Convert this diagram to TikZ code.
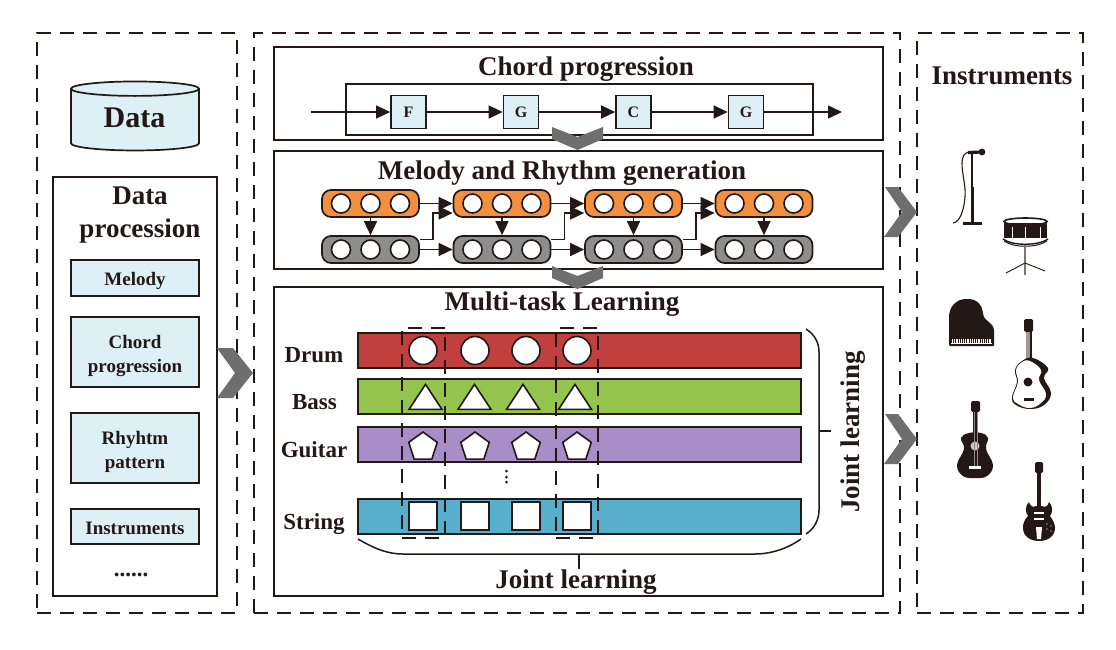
\documentclass[tikz,border=0pt]{standalone}
\usepackage{fontspec}
\setmainfont{Liberation Serif}
\usepackage{xcolor}
\usetikzlibrary{positioning,arrows.meta,shapes.geometric}
\definecolor{inkdark}{HTML}{231815}
\definecolor{paleblue}{HTML}{DDF0F5}
\definecolor{chevgray}{HTML}{6F6E6E}
\definecolor{pillorange}{HTML}{F3903F}
\definecolor{pillgray}{HTML}{8E8D8D}
\definecolor{bardrum}{HTML}{C03F3F}
\definecolor{barbass}{HTML}{94C34E}
\definecolor{barguitar}{HTML}{A88EC6}
\definecolor{barstring}{HTML}{58AFCB}
\tikzset{
  frame/.style={draw=inkdark, line width=1.6pt, dash pattern=on 14pt off 9pt},
  panel/.style={draw=inkdark, line width=1.7pt, minimum width=609pt, inner sep=0pt},
  title/.style={font=\fontsize{27}{29}\selectfont\bfseries, text=inkdark, inner sep=0pt},
  smallbox/.style={draw=inkdark, fill=paleblue, line width=1.7pt, minimum width=128pt, inner sep=0pt, align=center,
    text=inkdark, font=\fontsize{19}{24}\selectfont\bfseries},
  chordbox/.style={draw=inkdark, fill=paleblue, line width=1.7pt, minimum width=35pt, minimum height=33pt, inner sep=0pt,
    text=inkdark, font=\fontsize{16}{18}\selectfont\bfseries},
  flow/.style={draw=inkdark, line width=1.5pt, -{Triangle[length=14pt,width=13pt]}},
  pill/.style={draw=inkdark, line width=1.7pt, rounded corners=9pt, minimum width=97pt, minimum height=27pt},
  note/.style={draw=inkdark, fill=white, line width=1.6pt, circle, minimum size=19pt, inner sep=0pt},
  bar/.style={draw=inkdark, line width=1.7pt, minimum width=443pt, minimum height=35pt, inner sep=0pt},
  track/.style={text=inkdark, font=\fontsize{23}{25}\selectfont\bfseries, inner sep=0pt},
  rnd/.style={draw=inkdark, fill=white, line width=1.6pt, circle, minimum size=28pt, inner sep=0pt},
  tri/.style={draw=inkdark, fill=white, line width=1.6pt, isosceles triangle, isosceles triangle stretches,
    shape border rotate=90, minimum width=33pt, minimum height=25pt, inner sep=0pt},
  penta/.style={draw=inkdark, fill=white, line width=1.6pt, regular polygon, regular polygon sides=5, minimum size=30pt, inner sep=0pt},
  sqr/.style={draw=inkdark, fill=white, line width=1.6pt, minimum size=28pt, inner sep=0pt},
  chev/.style={fill=chevgray},
  bracket/.style={draw=inkdark, line width=1.5pt},
  icon/.style={fill=inkdark}
}
\newcommand{\pillnotes}[1]{
  \node[note] (#1b) at (#1.center) {};
  \node[note, left of=#1b] (#1a) {};
  \node[note, right of=#1b] (#1c) {};
}
\begin{document}
\begin{tikzpicture}[x=1pt, y=-1pt, node distance=29.5pt]
    \fill[white] (0,0) rectangle (1116,649);
    \useasboundingbox (0,0) rectangle (1116,649);

    % outer frames
    \node[frame, minimum width=200pt, minimum height=580pt] (dataframe) at (137,323) {};
    \node[frame, minimum width=646pt, minimum height=580pt] (modelframe) at (577,323) {};
    \node[frame, minimum width=166pt, minimum height=580pt] (instrframe) at (1000,323) {};

    % data column
    \node[cylinder, shape border rotate=90, aspect=.234, draw=inkdark, fill=paleblue, line width=1.7pt,
      minimum width=128pt, minimum height=69pt, inner sep=0pt,
      font=\fontsize{30}{32}\selectfont\bfseries] (data) at (135,120) {\phantom{Data}};
    \node[title, font=\fontsize{30}{32}\selectfont\bfseries] (datalabel) at (134.5,117.5) {Data};
    \node[draw=inkdark, line width=1.7pt, minimum width=164pt, minimum height=419pt] (procbox) at (135,386.5) {};
    \node[title, align=center, font=\fontsize{27}{33}\selectfont\bfseries] (proctitle) at (140,215) {Data\\procession};
    \node[smallbox, minimum height=36pt] (melody) at (135,278) {\rule{0pt}{19pt}Melody};
    \node[smallbox, minimum height=70pt] (chord) at (135,352) {\rule{0pt}{22pt}Chord\\progression};
    \node[smallbox, minimum height=70pt] (rhythm) at (135,448) {\rule{0pt}{22pt}Rhyhtm\\pattern};
    \node[smallbox, minimum height=35pt] (instruments) at (135,526.5) {\rule{0pt}{17pt}Instruments};
    \node[track] (more) at (131,575) {......};

    % chord progression
    \node[panel, minimum height=93pt] (chordpanel) at (578.5,93.5) {};
    \node[title] (chordtitle) at (586,69) {Chord progression};
    \node[draw=inkdark, line width=1.5pt, minimum width=467pt, minimum height=51pt] (chordinner) at (579.5,109.5) {};
    \coordinate (chordin) at (311,112);
    \coordinate (chordout) at (842,112);
    \node[chordbox] (chordF) at (408.5,112) {F};
    \node[chordbox, right of=chordF, node distance=112.5pt] (chordG) {G};
    \node[chordbox, right of=chordG, node distance=112.5pt] (chordC) {C};
    \node[chordbox, right of=chordC, node distance=112.5pt] (chordGG) {G};
    \draw[flow] (chordin) -- (chordF);
    \draw[flow] (chordF) -- (chordG);
    \draw[flow] (chordG) -- (chordC);
    \draw[flow] (chordC) -- (chordGG);
    \draw[flow] (chordGG) -- (chordout);

    % melody and rhythm
    \node[panel, minimum height=118pt] (melodypanel) at (578.5,210) {};
    \node[title] (melodytitle) at (562,173) {Melody and Rhythm generation};
    \node[pill, fill=pillorange] (ma) at (370.5,203.5) {};
    \node[pill, fill=pillorange] (mb) at (502,203.5) {};
    \node[pill, fill=pillorange] (mc) at (633.5,203.5) {};
    \node[pill, fill=pillorange] (md) at (764,203.5) {};
    \node[pill, fill=pillgray] (ra) at (370.5,249.5) {};
    \node[pill, fill=pillgray] (rb) at (502,249.5) {};
    \node[pill, fill=pillgray] (rc) at (633.5,249.5) {};
    \node[pill, fill=pillgray] (rd) at (764,249.5) {};
    \pillnotes{ma}\pillnotes{mb}\pillnotes{mc}\pillnotes{md}
    \pillnotes{ra}\pillnotes{rb}\pillnotes{rc}\pillnotes{rd}
    \draw[flow] (ma) -- (mb);
    \draw[flow] (mb) -- (mc);
    \draw[flow] (mc) -- (md);
    \draw[flow] (ra) -- (rb);
    \draw[flow] (rb) -- (rc);
    \draw[flow] (rc) -- (rd);
    \draw[flow] (ma.south) -- (ra.north);
    \draw[flow] (mb.south) -- (rb.north);
    \draw[flow] (mc.south) -- (rc.north);
    \draw[flow] (md.south) -- (rd.north);
    \draw[flow] ([yshift=10pt]ra.east) -- ++(13,0) |- ([yshift=-9.5pt]mb.west);
    \draw[flow] ([yshift=10pt]rb.east) -- ++(13,0) |- ([yshift=-9.5pt]mc.west);
    \draw[flow] ([yshift=10pt]rc.east) -- ++(13,0) |- ([yshift=-9.5pt]md.west);

    % multi-task learning
    \node[panel, minimum height=309pt] (taskpanel) at (578.5,441.5) {};
    \node[title] (tasktitle) at (562,304) {Multi-task Learning};
    \node[bar, fill=bardrum] (drumbar) at (579.5,350.5) {};
    \node[bar, fill=barbass] (bassbar) at (579.5,396.5) {};
    \node[bar, fill=barguitar] (guitarbar) at (579.5,444.5) {};
    \node[bar, fill=barstring] (stringbar) at (579.5,516.5) {};
    \node[track] (drum) at (314,355) {Drum};
    \node[track] (bass) at (314.5,402) {Bass};
    \node[track] (guitar) at (314,449.5) {Guitar};
    \node[track] (string) at (314,524) {String};
    \node[frame, minimum width=43pt, minimum height=210pt] (groupa) at (423.5,433) {};
    \node[frame, minimum width=42pt, minimum height=210pt] (groupb) at (577,433) {};

    \node[rnd] (drumA) at (423,350.5) {};
    \node[rnd] (drumB) at (475,350.5) {};
    \node[rnd] (drumC) at (526,350.5) {};
    \node[rnd] (drumD) at (577,350.5) {};
    \node[tri] (bassA) at (425.5,400.5) {};
    \node[tri] (bassB) at (474.5,400.5) {};
    \node[tri] (bassC) at (523,400.5) {};
    \node[tri] (bassD) at (575,400.5) {};
    \node[penta] (guitarA) at (423,447) {};
    \node[penta] (guitarB) at (475,447) {};
    \node[penta] (guitarC) at (526,447) {};
    \node[penta] (guitarD) at (577,447) {};
    \node[sqr] (stringA) at (423,516) {};
    \node[sqr] (stringB) at (475,516) {};
    \node[sqr] (stringC) at (526,516) {};
    \node[sqr] (stringD) at (577,516) {};
    \fill[inkdark] (506.5,471) circle (1.5) (506.5,477) circle (1.5) (506.5,482) circle (1.5);

    \coordinate (bottommid) at (579,554);
    \coordinate (rightmid) at (819,431);
    \node[title] (jointbottom) at (576,582) {Joint learning};
    \node[title, rotate=90] (jointright) at (853,432) {Joint learning};
    \draw[bracket] (358,539) .. controls (375,549) and (388,554) .. (403,554) -- (755,554)
      .. controls (770,554) and (787,549) .. (801,539);
    \draw[bracket] (806,329) .. controls (814,334) and (819,342) .. (819,352) -- (819,510)
      .. controls (819,520) and (814,529) .. (806,534);
    \draw[bracket] (bottommid) -- (jointbottom.north -| bottommid);
    \draw[bracket] (rightmid) -- ++(12,0);

    % chevrons
    \fill[chev] (552,127) -- (577.5,137) -- (603,127) -- (603,139) -- (577.5,150) -- (552,139) -- cycle;
    \fill[chev] (552,266) -- (577.5,276) -- (603,266) -- (603,278) -- (577.5,289) -- (552,278) -- cycle;
    \fill[chev] (217,348) -- (233,348) -- (253,373) -- (233,398) -- (217,398) -- (235,373) -- cycle;
    \fill[chev] (885,187) -- (898,187) -- (917,212) -- (898,237) -- (884,237) -- (902,212) -- cycle;
    \fill[chev] (885,414) -- (898,414) -- (917,439) -- (898,464) -- (884,464) -- (902,439) -- cycle;

    % instruments
    \node[title] (instrtitle) at (1002,76) {Instruments};

    % microphone
    \draw[inkdark, line width=1.2pt] (972,152) -- (972,187);
    \draw[inkdark, line width=3pt] (972,187) -- (972,223);
    \draw[inkdark, line width=2.6pt] (963,223.5) -- (982,223.5);
    \draw[inkdark, line width=1.1pt] (969,152) .. controls (964,153) and (962,157) .. (962,163)
      .. controls (962,175) and (966,185) .. (965,197) .. controls (964,210) and (960,222) .. (953,223);
    \draw[inkdark, line width=3.2pt] (968,152.5) -- (982,152);
    \fill[inkdark] (982,152) circle (3.4);

    % snare drum
    \draw[inkdark, line width=1.6pt, fill=white] (1025.5,221.5) ellipse (21.5 and 3.5);
    \fill[icon] (1004,223) -- (1047,223) -- (1047,238) -- (1004,238) -- cycle;
    \draw[white, line width=.8pt] (1012,227) -- (1012,238) (1025,227) -- (1025,239) (1040,227) -- (1040,238);
    \draw[inkdark, line width=1.4pt] (1003,239) .. controls (1012,246) and (1038,246) .. (1048,239);
    \draw[inkdark, line width=1pt] (1004,241) .. controls (1014,248) and (1036,248) .. (1047,241);
    \draw[inkdark!60, line width=1.2pt] (1025,245) -- (1025,275);
    \draw[inkdark, line width=.9pt] (1006,273) -- (1025,263) -- (1045,271);

    % piano
    \fill[icon, rounded corners=1pt] (949,346) -- (949,318) .. controls (949,306) and (957,299) .. (967,299)
      .. controls (977,299) and (982,305) .. (983,313) .. controls (984,322) and (994,322) .. (994,332) -- (994,346) -- cycle;
    \fill[white] (951,339) rectangle (992,344);
    \draw[inkdark, line width=3.6pt, dash pattern=on 1pt off 1.2pt] (951,341) -- (992,341);

    % acoustic guitar, light
    \fill[inkdark, rounded corners=1.5pt] (1024,319) rectangle (1033,332);
    \fill[inkdark!45] (1026,332) rectangle (1030,362);
    \fill[inkdark] (1030,332) rectangle (1031.5,362);
    \fill[icon] plot[smooth cycle, tension=.7] coordinates {(1022,361) (1033,358) (1048,368) (1044,378) (1051,393) (1044,405) (1030,409) (1016,405) (1012,397) (1017,382) (1015,370)};
    \fill[white] plot[smooth cycle, tension=.7] coordinates {(1022,362) (1030,361) (1041,370) (1039,380) (1046,394) (1041,403) (1030,408) (1018,404) (1013,397) (1018,382) (1016,370)};
    \fill[inkdark] (1028,382) circle (4.5);
    \fill[inkdark] (1024,398) rectangle (1034,401);

    % acoustic guitar, dark
    \fill[icon, rounded corners=1.5pt] (971,401) rectangle (980,412);
    \fill[icon] (973,412) rectangle (978,436);
    \fill[icon] plot[smooth cycle, tension=.7] coordinates {(969,433) (981,433) (988,438) (986,449) (993,465) (987,476) (975,478) (963,476) (957,465) (964,449) (961,438)};
    \fill[inkdark!25] (975,446) circle (4.5);
    \draw[inkdark!50, line width=.6pt] (974,412) -- (974,466) (977,412) -- (977,466);
    \fill[white] (969,466) rectangle (981,468.5);

    % electric guitar
    \fill[icon, rounded corners=1.5pt] (1035,462) rectangle (1043,473);
    \fill[icon] (1037,473) rectangle (1041,507);
    \fill[icon] (1036,506) .. controls (1033,508) and (1030,506) .. (1029,502) .. controls (1025,506) and (1025,512) .. (1028,516)
      .. controls (1024,520) and (1023,524) .. (1023,528) .. controls (1023,536) and (1030,541) .. (1039,541)
      .. controls (1048,541) and (1055,536) .. (1055,528) .. controls (1055,524) and (1053,520) .. (1050,516)
      .. controls (1053,512) and (1053,506) .. (1049,502) .. controls (1048,506) and (1045,508) .. (1042,506) -- cycle;
    \fill[white] (1034,512) rectangle (1044,514);
    \fill[white] (1034,518) rectangle (1044,520);
    \fill[white] (1036,527) -- (1042,527) -- (1041,539) -- (1037,539) -- cycle;
    \fill[white] (1047,524) circle (.6) (1051,526) circle (.6) (1047,529) circle (.6) (1051,531) circle (.6);
\end{tikzpicture}
\end{document}
